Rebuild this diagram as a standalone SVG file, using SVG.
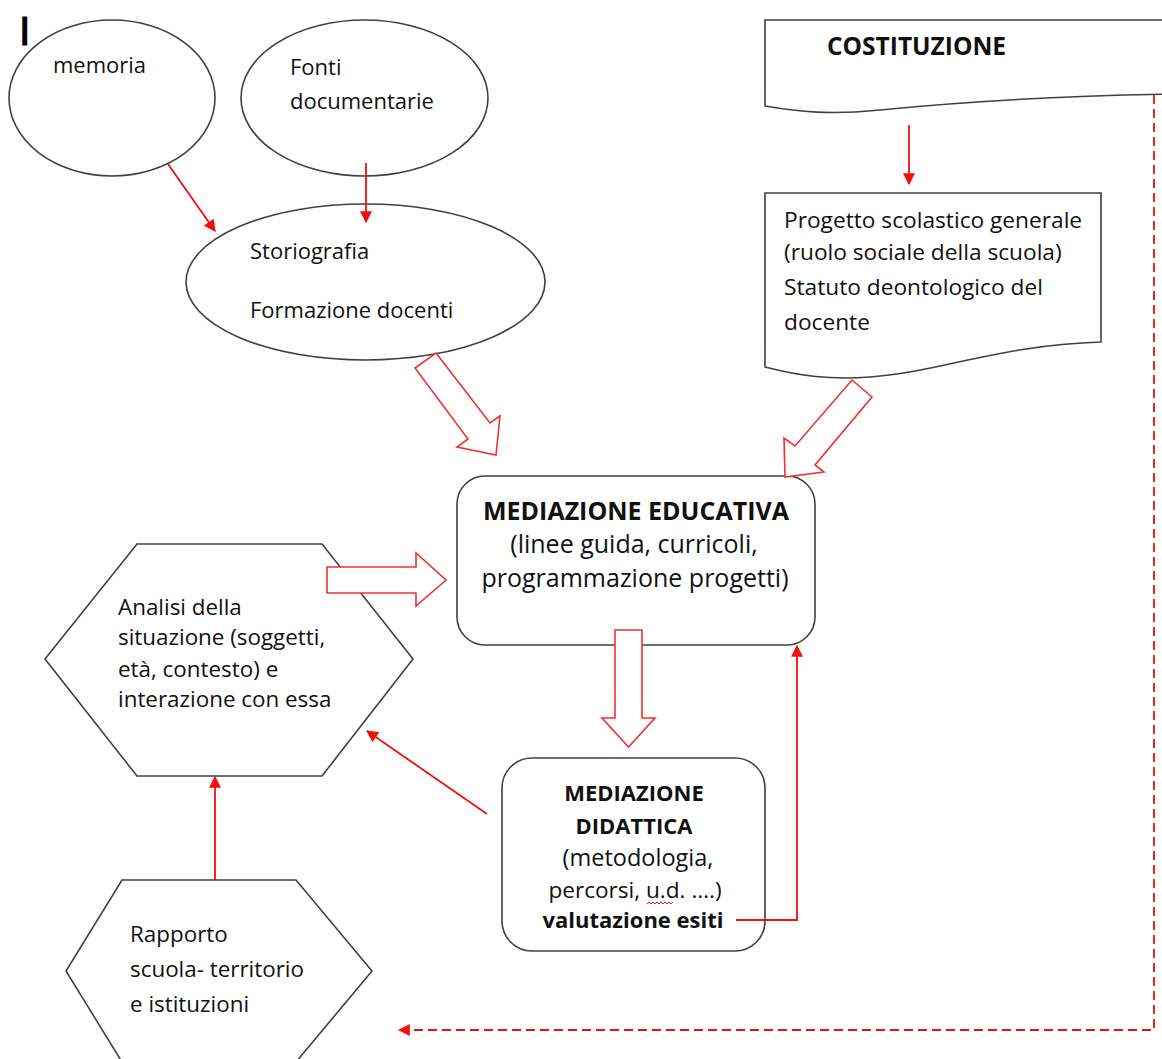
<svg xmlns="http://www.w3.org/2000/svg" width="1162" height="1059" viewBox="0 0 1162 1059">
<style>
.sh{fill:#fff;stroke:#404040;stroke-width:1.6}
.t{font-family:"Open Sans","Liberation Sans",sans-serif;font-size:22px;fill:#111}
.tb{font-family:"Open Sans","Liberation Sans",sans-serif;font-size:22px;font-weight:bold;fill:#111}
.c{text-anchor:middle}
.rl{fill:none;stroke:#f01010;stroke-width:1.8}
.blk{fill:#fff;stroke:#f03030;stroke-width:1.6}
</style>
<defs>
<marker id="ah" viewBox="0 0 10 10" refX="9" refY="5" markerWidth="13" markerHeight="12" markerUnits="userSpaceOnUse" orient="auto">
<path d="M0,0 L10,5 L0,10 z" fill="#f01010"/>
</marker>
</defs>
<rect width="1162" height="1059" fill="#fff"/>
<text x="19" y="45" style="font-family:'Liberation Sans',sans-serif;font-size:41px;fill:#000;stroke:#000;stroke-width:1">I</text>

<g id="memoria">
<ellipse class="sh" cx="112" cy="98" rx="103" ry="78"/>
<text class="t" x="53" y="73">memoria</text>
</g>
<g id="fonti">
<ellipse class="sh" cx="364.5" cy="98" rx="123.5" ry="78"/>
<text class="t" x="290" y="75">Fonti</text>
<text class="t" x="290" y="109">documentarie</text>
</g>
<g id="storiografia">
<ellipse class="sh" cx="365.5" cy="282" rx="179.5" ry="78"/>
<text class="t" x="250" y="259">Storiografia</text>
<text class="t" x="250" y="318">Formazione docenti</text>
</g>
<g id="costituzione">
<path class="sh" d="M765,106 V20 H1175 V94 C1050,96 950,103 880,110 C830,115 800,112 765,106 Z"/>
<text class="tb" x="827" y="55" style="font-size:24.5px">COSTITUZIONE</text>
</g>
<g id="progetto">
<path class="sh" d="M765,367 V193 H1101 V342 C1000,345 940,372 870,377 C830,380 800,376 765,367 Z"/>
<text class="t" x="784" y="228" style="font-size:22.7px">Progetto scolastico generale</text>
<text class="t" x="784" y="260" style="font-size:22.7px">(ruolo sociale della scuola)</text>
<text class="t" x="784" y="295" style="font-size:22.7px">Statuto deontologico del</text>
<text class="t" x="784" y="330" style="font-size:22.7px">docente</text>
</g>
<g id="analisi">
<polygon class="sh" points="137,544 322,544 413,659 322,776 137,776 45,659"/>
<text class="t" x="118" y="615" style="font-size:22.4px">Analisi della</text>
<text class="t" x="118" y="645" style="font-size:22.4px">situazione (soggetti,</text>
<text class="t" x="118" y="677" style="font-size:22.4px">età, contesto) e</text>
<text class="t" x="118" y="707" style="font-size:22.4px">interazione con essa</text>
</g>
<g id="rapporto">
<polygon class="sh" points="122,880 296,880 372,971 296,1062 122,1062 66,971"/>
<text class="t" x="130" y="942" style="font-size:22.4px">Rapporto</text>
<text class="t" x="130" y="977" style="font-size:22.4px">scuola- territorio</text>
<text class="t" x="130" y="1012" style="font-size:22.4px">e istituzioni</text>
</g>
<g id="educativa">
<rect class="sh" x="457" y="476" width="358" height="169" rx="28"/>
<text class="tb c" x="636" y="520" style="font-size:25px">MEDIAZIONE EDUCATIVA</text>
<text class="t c" x="634" y="553" style="font-size:25px">(linee guida, curricoli,</text>
<text class="t c" x="635" y="587" style="font-size:25px">programmazione progetti)</text>
</g>
<g id="didattica">
<rect class="sh" x="502" y="758" width="263" height="193" rx="30"/>
<text class="tb c" x="634" y="801">MEDIAZIONE</text>
<text class="tb c" x="634" y="834">DIDATTICA</text>
<text class="t c" x="638" y="866" style="font-size:23.5px">(metodologia,</text>
<text class="t c" x="635" y="898" style="font-size:22.6px">percorsi, u.d. ….)</text>
<text class="tb c" x="633" y="928">valutazione esiti</text>
<path d="M647,904 l2,-2 l2,2 l2,-2 l2,2 l2,-2 l2,2 l2,-2 l2,2 l2,-2 l2,2 l2,-2 l2,2 l2,-2" fill="none" stroke="#e02020" stroke-width="1"/>
</g>

<g id="connectors">
<line class="rl" x1="168" y1="164" x2="215" y2="231" marker-end="url(#ah)"/>
<line class="rl" x1="366" y1="163" x2="366" y2="222" marker-end="url(#ah)"/>
<line class="rl" x1="909" y1="125" x2="909" y2="184" marker-end="url(#ah)"/>
<polygon class="blk" points="436,353 490,423 500,416 496,455 457,447 468,439 415,368"/>
<polygon class="blk" points="852,380 872,397 815,465 824,472 785,477 784,438 795,446"/>
<polygon class="blk" points="327,567 416,567 416,553 446,580 416,606 416,593 327,593"/>
<polygon class="blk" points="615,630 642,630 642,718 655,718 628.5,747 602,718 615,718"/>
<polyline class="rl" points="736,920 797,920 797,646" marker-end="url(#ah)"/>
<line class="rl" x1="487" y1="814" x2="367" y2="731" marker-end="url(#ah)"/>
<line class="rl" x1="215" y1="880" x2="215" y2="777" marker-end="url(#ah)"/>
<polyline class="rl" points="1154,95 1154,1030 399,1030" stroke-dasharray="9,5" marker-end="url(#ah)"/>
</g>
</svg>
